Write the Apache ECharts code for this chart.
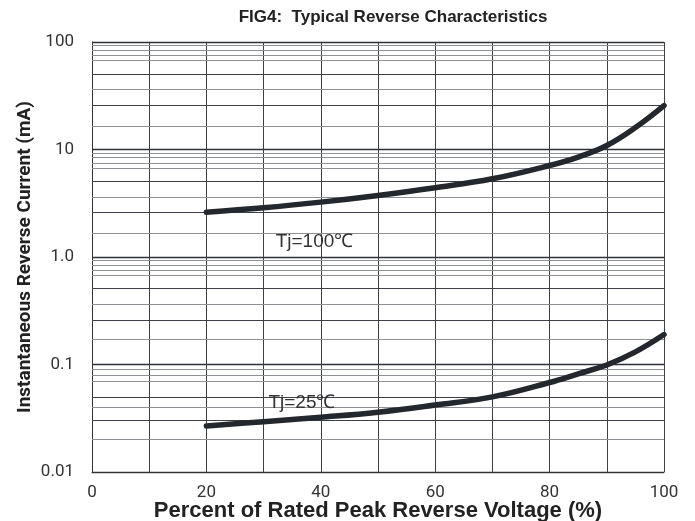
<!DOCTYPE html>
<html>
<head>
<meta charset="utf-8">
<script src="https://cdn.jsdelivr.net/npm/echarts@6/dist/echarts.min.js"></script>
<style>html,body{margin:0;padding:0;background:#fff}#c{width:695px;height:521px}</style>
</head>
<body>
<div id="c"></div>
<script>
// ---- data ----
const xValues = [20, 30, 40, 50, 60, 70, 80, 85, 90, 95, 100];
const tj100 = [2.61, 2.87, 3.24, 3.74, 4.41, 5.34, 7.1, 8.5, 10.9, 16.0, 25.6];
const tj25 = [0.0268, 0.0294, 0.0323, 0.036, 0.042, 0.050, 0.068, 0.082, 0.099, 0.131, 0.19];
const yTickLabels = {"100": "100", "10": "10", "1": "1.0", "0.1": "0.1", "0.01": "0.01"};
const xTickLabels = [0, 20, 40, 60, 80, 100];
// irregular minor grid lines of the printed chart (per decade)
const minorDark = [5.06, 2.59, 50.6, 25.9, 0.506, 0.259, 0.0506, 0.0259];
const minorLight = [9.32, 8.43, 7.47, 6.71, 3.62, 1.66,
                    93.2, 84.3, 74.7, 67.1, 36.2, 16.6,
                    0.932, 0.843, 0.747, 0.671, 0.362, 0.166,
                    0.0932, 0.0843, 0.0747, 0.0671, 0.0362, 0.0166];
const label100 = {text: 'Tj=100\u2103', x: 38.9, y: 1.375};
const label25 = {text: 'Tj=25\u2103', x: 36.7, y: 0.0439};

const chart = echarts.init(document.getElementById('c'));
const tickFont = '"Liberation Sans Narrow", "Roboto", sans-serif';
const sansFont = '"Liberation Sans", Arial, sans-serif';
const lineColor = '#23272e';

function pairs(xs, ys) { return xs.map((x, i) => [x, ys[i]]); }

const gridLines = minorDark.map(v => ({yAxis: v, lineStyle: {color: '#3c4046', width: 1, type: 'solid'}}))
  .concat(minorLight.map(v => ({yAxis: v, lineStyle: {color: '#8d9095', width: 1, type: 'solid'}})));

chart.setOption({
  animation: false,
  title: {
    text: 'FIG4:  Typical Reverse Characteristics',
    left: 388, top: 4, textAlign: 'center',
    textStyle: {fontFamily: sansFont, fontWeight: 'bold', fontSize: 17, color: '#222'}
  },
  grid: {left: 92, right: 31, top: 42, bottom: 49, outerBoundsMode: 'none', containLabel: false},
  xAxis: {
    type: 'value', min: 0, max: 100, interval: 10,
    name: 'Percent of Rated Peak Reverse Voltage (%)',
    nameLocation: 'middle', nameGap: 28, nameMoveOverlap: false,
    nameTextStyle: {fontFamily: sansFont, fontWeight: 'bold', fontSize: 22, color: '#222'},
    axisLine: {show: true, lineStyle: {color: '#333', width: 1}},
    axisTick: {show: false},
    splitLine: {show: true, lineStyle: {color: '#3c4046', width: 1}},
    axisLabel: {
      margin: 12, fontFamily: tickFont, fontSize: 17, color: '#333',
      formatter: v => xTickLabels.indexOf(v) >= 0 ? String(v) : ''
    }
  },
  yAxis: {
    type: 'log', logBase: 10, min: 0.01, max: 100,
    name: 'Instantaneous Reverse Current (mA)',
    nameLocation: 'middle', nameGap: 57, nameMoveOverlap: false,
    nameTextStyle: {fontFamily: tickFont, fontWeight: 'bold', fontSize: 19, color: '#222'},
    axisLine: {show: true, lineStyle: {color: '#333', width: 1}},
    axisTick: {show: false},
    splitLine: {show: true, lineStyle: {color: '#2e3238', width: 1.3}},
    minorSplitLine: {show: false},
    axisLabel: {
      margin: 18, fontFamily: tickFont, fontSize: 17, color: '#333',
      padding: [0, 0, 8, 0],
      formatter: v => {
        const k = String(+v.toPrecision(3));
        return yTickLabels[k] !== undefined ? yTickLabels[k] : '';
      }
    }
  },
  series: [
    {
      type: 'line', data: [], silent: true,
      markLine: {symbol: 'none', silent: true, label: {show: false}, data: gridLines}
    },
    {
      name: 'Tj=100', type: 'line', smooth: 0.4, showSymbol: false,
      data: pairs(xValues, tj100),
      lineStyle: {color: lineColor, width: 5.5, cap: 'round', join: 'round'},
      markPoint: {
        symbol: 'rect', symbolSize: 1, itemStyle: {color: 'transparent'},
        label: {show: true, position: 'inside', color: '#333', fontSize: 19, fontFamily: sansFont, formatter: label100.text},
        data: [{coord: [label100.x, label100.y]}]
      },
      z: 5
    },
    {
      name: 'Tj=25', type: 'line', smooth: 0.4, showSymbol: false,
      data: pairs(xValues, tj25),
      lineStyle: {color: lineColor, width: 5.5, cap: 'round', join: 'round'},
      markPoint: {
        symbol: 'rect', symbolSize: 1, itemStyle: {color: 'transparent'},
        label: {show: true, position: 'inside', color: '#333', fontSize: 19, fontFamily: sansFont, formatter: label25.text},
        data: [{coord: [label25.x, label25.y]}]
      },
      z: 5
    }
  ]
});
</script>
</body>
</html>
